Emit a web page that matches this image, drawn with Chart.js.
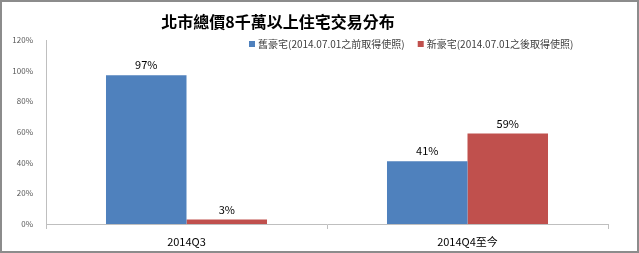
<!DOCTYPE html>
<html>
<head>
<meta charset="utf-8">
<script src="https://cdn.jsdelivr.net/npm/chart.js@4/dist/chart.umd.min.js"></script>
<style>
  html, body { margin: 0; padding: 0; background: #fff; }
  .frame {
    width: 639px;
    height: 253px;
    box-sizing: border-box;
    border: 2px solid #8c8c8c;
    background: #fff;
  }
  .frame canvas { display: block; }
</style>
</head>
<body>
<div class="frame">
  <canvas id="chart" width="635" height="249"></canvas>
</div>
<script>
const titleText = '北市總價8千萬以上住宅交易分布';
const categories = ['2014Q3', '2014Q4至今'];
const seriesNames = ['舊豪宅(2014.07.01之前取得使照)', '新豪宅(2014.07.01之後取得使照)'];
const oldHouses = [97, 41];
const newHouses = [3, 59];
const yTicks = [0, 20, 40, 60, 80, 100, 120];

const FONT = '"Noto Sans CJK TC", "Noto Sans", sans-serif';

const titlePlugin = {
  id: 'fixedTitle',
  afterDraw(chart) {
    const ctx = chart.ctx;
    ctx.save();
    ctx.font = `bold 16px ${FONT}`;
    ctx.fillStyle = '#000';
    ctx.textAlign = 'center';
    ctx.textBaseline = 'middle';
    ctx.fillText(titleText, 276, 20);
    ctx.restore();
  },
};

const legendPlugin = {
  id: 'fixedLegend',
  afterDraw(chart) {
    const ctx = chart.ctx;
    ctx.save();
    ctx.font = `10px ${FONT}`;
    ctx.textBaseline = 'middle';
    ctx.textAlign = 'left';
    let x = 247;
    const y = 42;
    chart.data.datasets.forEach((ds) => {
      ctx.fillStyle = ds.backgroundColor;
      ctx.fillRect(x, y - 3, 6, 6);
      ctx.fillStyle = '#404040';
      ctx.fillText(ds.label, x + 9, y);
      x += 9 + ctx.measureText(ds.label).width + 13;
    });
    ctx.restore();
  },
};

const valueLabels = {
  id: 'valueLabels',
  afterDatasetsDraw(chart) {
    const ctx = chart.ctx;
    ctx.save();
    ctx.font = `11px ${FONT}`;
    ctx.fillStyle = '#000';
    ctx.textAlign = 'center';
    ctx.textBaseline = 'middle';
    chart.data.datasets.forEach((ds, i) => {
      chart.getDatasetMeta(i).data.forEach((bar, j) => {
        ctx.fillText(`${ds.data[j]}%`, bar.x, bar.y - 10);
      });
    });
    ctx.restore();
  },
};

new Chart(document.getElementById('chart'), {
  type: 'bar',
  data: {
    labels: categories,
    datasets: [
      {
        label: seriesNames[0],
        data: oldHouses,
        backgroundColor: '#4f81bd',
        borderColor: '#4a7ab3',
        borderWidth: 0,
      },
      {
        label: seriesNames[1],
        data: newHouses,
        backgroundColor: '#c0504d',
        borderColor: '#b54b48',
        borderWidth: 0,
      },
    ],
  },
  options: {
    responsive: false,
    animation: false,
    events: [],
    layout: { padding: { left: 0, right: 29, top: 38, bottom: 0 } },
    datasets: {
      bar: { barPercentage: 1, categoryPercentage: 0.573 },
    },
    plugins: {
      legend: { display: false },
      title: { display: false },
      tooltip: { enabled: false },
    },
    scales: {
      x: {
        grid: {
          display: true,
          drawOnChartArea: false,
          drawTicks: true,
          tickLength: 5,
          color: '#bfbfbf',
          offset: true,
        },
        border: { display: true, color: '#bfbfbf', width: 1 },
        ticks: {
          color: '#000',
          font: { family: FONT, size: 11 },
          padding: 6,
        },
        afterFit(scale) { scale.height = 27; },
      },
      y: {
        min: 0,
        max: 120,
        afterBuildTicks(scale) {
          scale.ticks = yTicks.map((v) => ({ value: v }));
        },
        grid: { display: false },
        border: { display: true, color: '#bfbfbf', width: 1 },
        ticks: {
          color: '#595959',
          font: { family: FONT, size: 8 },
          padding: 5,
          callback: (v) => `${v}%`,
        },
        afterFit(scale) { scale.width = 44; },
      },
    },
  },
  plugins: [titlePlugin, legendPlugin, valueLabels],
});
</script>
</body>
</html>
